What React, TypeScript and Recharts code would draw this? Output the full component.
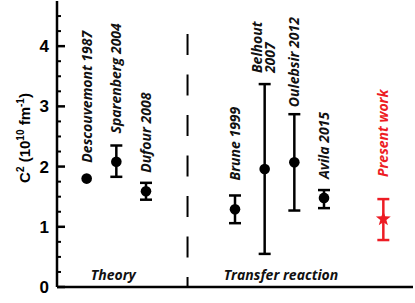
import React from 'react';
import { ScatterChart, Scatter, XAxis, YAxis, ErrorBar, ReferenceLine } from 'recharts';

// ANC C^2 values (10^10 fm^-1)
const studies = ['Descouvemont 1987', 'Sparenberg 2004', 'Dufour 2008', 'Brune 1999', 'Belhout 2007', 'Oulebsir 2012', 'Avila 2015', 'Present work'];
const slots = [1, 2, 3, 6, 7, 8, 9, 11];
const c2 = [1.8, 2.08, 1.59, 1.29, 1.96, 2.07, 1.48, 1.13];
const c2High = [null, 2.35, 1.73, 1.52, 3.37, 2.87, 1.61, 1.46];
const c2Low = [null, 1.83, 1.45, 1.06, 0.55, 1.27, 1.31, 0.78];

const yTicks = [0, 0.25, 0.5, 0.75, 1, 1.25, 1.5, 1.75, 2, 2.25, 2.5, 2.75, 3, 3.25, 3.5, 3.75, 4, 4.25, 4.5];
const dividerAt = 4.4;
const dividerTop = 4.24;
const groups = ['Theory', 'Transfer reaction'];
const groupX = [1.9, 7.55];

const RED = '#ed1c24';
const labelFont = "'Open Sans', 'DejaVu Sans', sans-serif";
const axisFont = "'Liberation Sans', Arial, sans-serif";
const labelGap = [11, 12, 10, 15, 11, 7, 11, 22];

const rows = studies.map((name, i) => ({
  name,
  x: slots[i],
  y: c2[i],
  err: c2High[i] == null ? null : [c2[i] - (c2Low[i] as number), (c2High[i] as number) - c2[i]],
}));
const measured = rows.slice(0, 7);
const present = rows.slice(7);
const labelRows = rows.map((r, i) => ({ ...r, i, y: c2High[i] == null ? r.y : (c2High[i] as number) }));
const groupRows = groups.map((g, i) => ({ x: groupX[i], y: 0.2, text: g }));

const Dot = (p: any) => <circle cx={p.cx} cy={p.cy} r={5.3} fill="#000" />;

const Star = (p: any) => {
  const pts: string[] = [];
  for (let k = 0; k < 10; k++) {
    const r = k % 2 === 0 ? 7.8 : 3.2;
    const a = -Math.PI / 2 + (k * Math.PI) / 5;
    pts.push(`${p.cx + r * Math.cos(a)},${p.cy + r * Math.sin(a)}`);
  }
  return <polygon points={pts.join(' ')} fill={RED} />;
};

const StudyLabel = (p: any) => {
  const i = p.payload.i;
  const extra = c2High[i] == null ? 5 : 0;
  const ty = p.cy - labelGap[i] - extra;
  const parts = p.payload.name === 'Belhout 2007' ? ['Belhout', '2007'] : [p.payload.name];
  return (
    <text
      x={p.cx}
      y={ty}
      transform={`rotate(-90, ${p.cx}, ${ty})`}
      fontFamily={labelFont}
      fontStyle="italic"
      fontWeight="bold"
      fontSize={14}
      fill={i === 7 ? RED : '#111'}
      textAnchor="start"
    >
      {parts.length === 1 ? (
        <tspan x={p.cx} dy="0.35em">{parts[0]}</tspan>
      ) : (
        <>
          <tspan x={p.cx} dy={-3}>{parts[0]}</tspan>
          <tspan x={p.cx} dy={13}>{parts[1]}</tspan>
        </>
      )}
    </text>
  );
};

const GroupLabel = (p: any) => (
  <text x={p.cx} y={p.cy} dy="0.35em" textAnchor="middle" fontFamily={labelFont} fontStyle="italic" fontWeight="bold" fontSize={14} fill="#111">
    {p.payload.text}
  </text>
);

const LeftTick = (p: any) => {
  const v = p.payload.value;
  const major = Number.isInteger(v);
  const ax = p.x + 8;
  return (
    <g>
      <line x1={ax} x2={ax + (major ? 8 : 4)} y1={p.y} y2={p.y} stroke="#000" strokeWidth={major ? 2.5 : 2} />
      {major && (
        <text x={p.x} y={p.y} dy="0.36em" textAnchor="end" fontFamily={axisFont} fontWeight="bold" fontSize={17} fill="#000">
          {v}
        </text>
      )}
    </g>
  );
};

const RightTick = (p: any) => {
  const major = Number.isInteger(p.payload.value);
  return <line x1={p.x} x2={p.x - (major ? 8 : 4)} y1={p.y} y2={p.y} stroke="#000" strokeWidth={major ? 2.5 : 2} />;
};

const YTitle = (p: any) => {
  const vb = p.viewBox;
  const cx = 30;
  const cy = vb.y + vb.height / 2 - 6;
  return (
    <text x={cx} y={cy} transform={`rotate(-90, ${cx}, ${cy})`} textAnchor="middle" fontFamily={axisFont} fontWeight="bold" fontSize={15} fill="#000">
      C<tspan dy={-6} fontSize={10}>2</tspan>
      <tspan dy={6}> (10</tspan>
      <tspan dy={-6} fontSize={10}>10</tspan>
      <tspan dy={6}> fm</tspan>
      <tspan dy={-6} fontSize={10}>-1</tspan>
      <tspan dy={6}>)</tspan>
    </text>
  );
};

export default function App() {
  return (
    <div style={{ width: 415, height: 303, background: '#fff' }}>
      <style>{'body{margin:0}'}</style>
      <ScatterChart width={415} height={303} margin={{ top: 1, right: 2, bottom: 0, left: 0 }}>
        <XAxis type="number" dataKey="x" domain={[0, 12]} tick={false} tickLine={false} height={16} axisLine={{ stroke: '#000', strokeWidth: 2.5 }} />
        <XAxis xAxisId="top" orientation="top" type="number" domain={[0, 12]} tick={false} tickLine={false} height={0} axisLine={{ stroke: '#000', strokeWidth: 2.5 }} />
        <YAxis type="number" dataKey="y" domain={[0, 4.75]} ticks={yTicks} interval={0} tick={LeftTick} tickLine={false} tickSize={0} tickMargin={8} width={57} axisLine={{ stroke: '#000', strokeWidth: 2.5 }} label={<YTitle />} />
        <YAxis yAxisId="r" orientation="right" type="number" domain={[0, 4.75]} ticks={yTicks} interval={0} tick={RightTick} tickLine={false} tickSize={0} tickMargin={0} width={0} axisLine={{ stroke: '#000', strokeWidth: 2.5 }} />
        <ReferenceLine
          segment={[{ x: dividerAt, y: 0 }, { x: dividerAt, y: dividerTop }]}
          stroke="#000"
          strokeWidth={2}
          strokeDasharray="21 19.5"
          strokeDashoffset={11}
        />
        <Scatter data={measured} dataKey="y" shape={Dot} isAnimationActive={false}>
          <ErrorBar dataKey="err" direction="y" width={6} stroke="#000" strokeWidth={2.5} />
        </Scatter>
        <Scatter data={present} dataKey="y" shape={Star} isAnimationActive={false}>
          <ErrorBar dataKey="err" direction="y" width={6} stroke={RED} strokeWidth={2.5} />
        </Scatter>
        <Scatter data={labelRows} dataKey="y" shape={StudyLabel} isAnimationActive={false} />
        <Scatter data={groupRows} dataKey="y" shape={GroupLabel} isAnimationActive={false} />
      </ScatterChart>
    </div>
  );
}
